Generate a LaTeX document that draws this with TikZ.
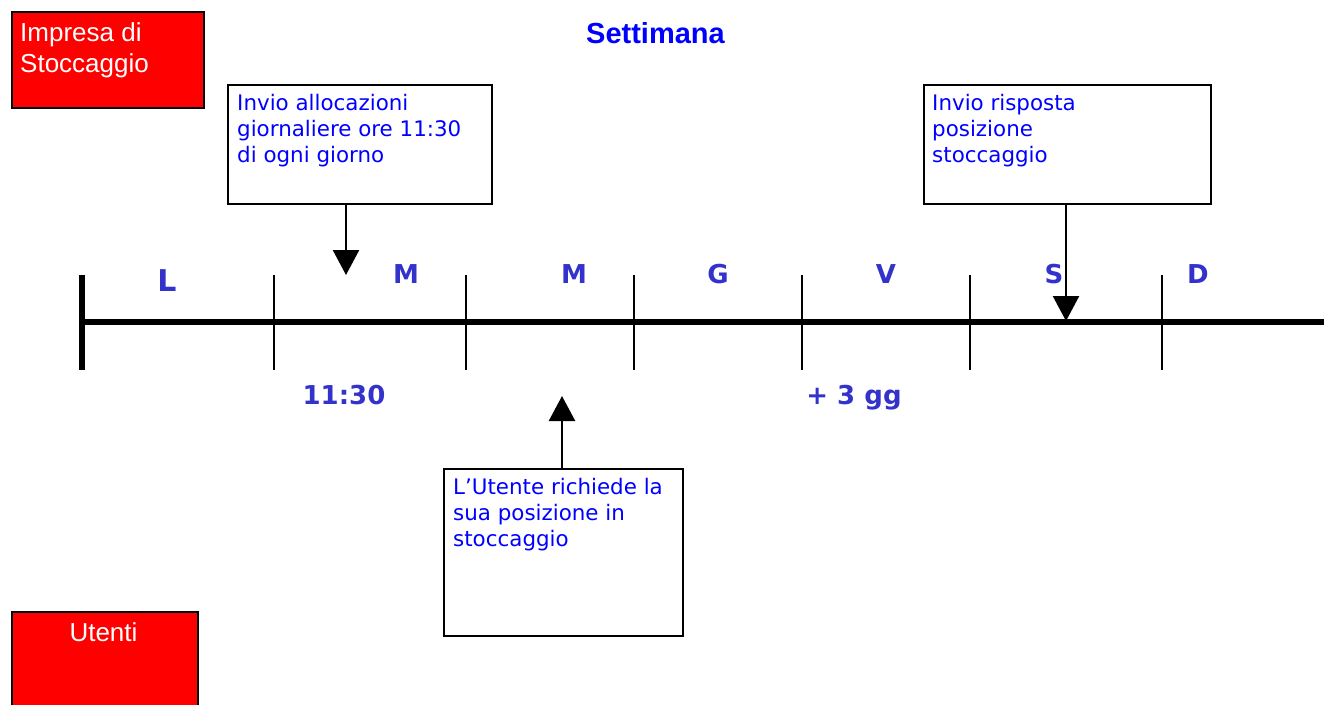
\documentclass[tikz,border=0pt]{standalone}
\usepackage{fontspec}
\setmainfont{Liberation Sans}
\newfontfamily\verd{DejaVu Sans}
\usetikzlibrary{arrows.meta}
\definecolor{lblue}{RGB}{51,51,204}
\definecolor{tblue}{RGB}{0,0,255}
\definecolor{boxred}{RGB}{255,0,0}
\tikzset{
  redbox/.style={draw=black, line width=2pt, fill=boxred, inner sep=0pt, anchor=north west},
  notebox/.style={draw=black, line width=2pt, fill=white, inner sep=0pt, anchor=north west},
  redtext/.style={text=white, inner sep=0pt, align=left, font=\fontsize{26}{31}\selectfont},
  notetext/.style={text=tblue, inner sep=0pt, anchor=north west, align=left, font=\verd\fontsize{21.4}{26}\selectfont},
  daylbl/.style={text=lblue, inner sep=0pt, anchor=base, font=\verd\bfseries\fontsize{26}{30}\selectfont},
  arr/.style={line width=2.5pt, -{Triangle[width=26pt,length=25pt]}},
  thick axis/.style={line width=6pt},
  tickmark/.style={line width=2pt}
}
\begin{document}
\begin{tikzpicture}[x=1pt,y=-1pt]
\useasboundingbox (0,0) rectangle (1324,704);
\clip (0,0) rectangle (1324,704);

% red boxes
\node[redbox, minimum width=192pt, minimum height=96pt] (impresa) at (10.5,10.5) {};
\node[redtext, anchor=north west] (impresaT) at (20,21.5) {\rule{0pt}{20pt}Impresa di\\Stoccaggio};
\node[redbox, minimum width=186pt, minimum height=120pt] (utenti) at (10.5,610.5) {};
\node[redtext, anchor=base] (utentiT) at (103.5,641) {Utenti};

% title
\node[text=tblue, inner sep=0pt, anchor=base, font=\bfseries\fontsize{29}{34}\selectfont] (title) at (655.5,43) {Settimana};

% note boxes
\node[notebox, minimum width=264pt, minimum height=119pt] (alloc) at (226.5,83.5) {};
\node[notetext] (allocT) at (237,90) {\rule{0pt}{20pt}Invio allocazioni\\giornaliere ore 11:30\\di ogni giorno};
\node[notebox, minimum width=287pt, minimum height=119pt] (risp) at (922.5,83.5) {};
\node[notetext] (rispT) at (932,90) {\rule{0pt}{20pt}Invio risposta\\posizione\\stoccaggio};
\node[notebox, minimum width=239pt, minimum height=167pt] (ute) at (442.5,467.5) {};
\node[notetext] (uteT) at (453,474) {\rule{0pt}{20pt}L’Utente richiede la\\sua posizione in\\stoccaggio};

% timeline
\coordinate (t0) at (82,322);
\coordinate (t1) at (1330,322);
\draw[thick axis] (t0) -- (t1);
\draw[thick axis] (82,275) -- (82,370);
\foreach \x in {274,466,634,802,970,1162} {
  \draw[tickmark] (\x,275) -- (\x,370);
}

% day labels
\node[daylbl, font=\verd\bfseries\fontsize{30}{34}\selectfont] (dL) at (167,291) {L};
\node[daylbl] (dM1) at (406,283) {M};
\node[daylbl] (dM2) at (574,283) {M};
\node[daylbl] (dG) at (718,283) {G};
\node[daylbl] (dV) at (886,283) {V};
\node[daylbl] (dS) at (1054,283) {S};
\node[daylbl] (dD) at (1198,283) {D};
\node[daylbl] (h1130) at (344,404) {11:30};
\node[daylbl] (p3gg) at (854,404) {+ 3 gg};

% arrows
\coordinate (a1) at (346,275);
\coordinate (a2) at (1066,321);
\coordinate (a3) at (562,396);
\draw[arr] (a1 |- alloc.south) -- (a1);
\draw[arr] (a2 |- risp.south) -- (a2);
\draw[arr] (a3 |- ute.north) -- (a3);
\end{tikzpicture}
\end{document}
